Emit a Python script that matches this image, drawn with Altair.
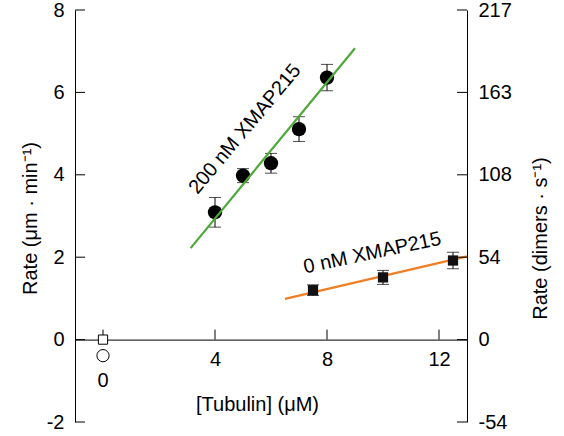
import altair as alt
import pandas as pd

# Growth rate (µm/min) against tubulin concentration (µM), 200 nM XMAP215
tub_200 = [4, 5, 6, 7, 8]
rate_200 = [3.09, 3.98, 4.28, 5.11, 6.36]
err_200 = [0.36, 0.17, 0.24, 0.30, 0.32]

# Growth rate without XMAP215
tub_0 = [7.5, 10, 12.5]
rate_0 = [1.20, 1.51, 1.92]
err_0 = [0.13, 0.17, 0.20]

# Controls at zero tubulin
ctrl_tub = [0, 0]
ctrl_rate = [0.0, -0.39]
ctrl_shape = ["square", "circle"]

# Linear fits (end points)
fit_200_x = [3.13, 9.0]
fit_200_y = [2.22, 7.07]
fit_0_x = [6.5, 13.0]
fit_0_y = [0.99, 2.02]

# Axes
left_ticks = [-2, 0, 2, 4, 6, 8]
right_labels = ["-54", "0", "54", "108", "163", "217"]
x_ticks = [0, 4, 8, 12]
x_labels = [4, 8, 12]

labels = ["200 nM XMAP215", "0 nM XMAP215"]
label_x = [5.07, 9.62]
label_y = [5.11, 2.10]
label_angle = [310, 348]

X_DOMAIN = [-1, 13]
Y_DOMAIN = [-2, 8]
W, H = 392, 412
FONT = "Liberation Sans"
FS = 20
TICK = 10
GREEN = "#4ea83a"
ORANGE = "#f07e22"

y_per_px = (Y_DOMAIN[1] - Y_DOMAIN[0]) / H

d200 = pd.DataFrame({"t": tub_200, "r": rate_200, "lo": [r - e for r, e in zip(rate_200, err_200)],
                     "hi": [r + e for r, e in zip(rate_200, err_200)]})
d0 = pd.DataFrame({"t": tub_0, "r": rate_0, "lo": [r - e for r, e in zip(rate_0, err_0)],
                   "hi": [r + e for r, e in zip(rate_0, err_0)]})
derr = pd.concat([d200, d0], ignore_index=True)
dctrl = pd.DataFrame({"t": ctrl_tub, "r": ctrl_rate, "shape": ctrl_shape})
dfit200 = pd.DataFrame({"t": fit_200_x, "r": fit_200_y})
dfit0 = pd.DataFrame({"t": fit_0_x, "r": fit_0_y})
dyt = pd.DataFrame({"r": left_ticks})
dxt = pd.DataFrame({"t": x_ticks, "r": [0] * len(x_ticks), "r_top": [TICK * y_per_px] * len(x_ticks)})
dlab = pd.DataFrame({"txt": labels, "t": label_x, "r": label_y, "a": label_angle})

xs = alt.Scale(domain=X_DOMAIN, nice=False, zero=False)
ys = alt.Scale(domain=Y_DOMAIN, nice=False, zero=False)

x_axis = alt.Axis(
    orient="bottom", offset=-(0 - Y_DOMAIN[0]) / y_per_px, values=x_labels,
    labelExpr="'' + datum.value",
    domain=True, domainColor="black", domainWidth=1, ticks=False, tickSize=0,
    labelPadding=10, labelFontSize=FS, labelColor="black", labelFont=FONT,
    grid=False, title="[Tubulin] (μM)", titleFontSize=FS, titleFont=FONT,
    titleFontWeight="normal", titleColor="black", titleX=182, titleY=65,
    titleBaseline="middle", titleAlign="center",
)
y_axis = alt.Axis(
    orient="left", values=left_ticks, labelExpr="'' + datum.value",
    domain=True, domainColor="black", domainWidth=1, ticks=False, tickSize=0,
    labelPadding=11, labelFontSize=FS, labelColor="black", labelFont=FONT,
    grid=False, title="Rate (μm · min⁻¹)", titleFontSize=FS, titleFont=FONT,
    titleFontWeight="normal", titleColor="black", titleX=-45, titleY=208,
    titleAngle=270, titleBaseline="middle", titleAlign="center",
)

X = alt.X("t:Q", scale=xs)
Y = alt.Y("r:Q", scale=ys)

# error bars (this layer also carries the x and left y axes)
err_bars = alt.Chart(derr).mark_rule(color="black", strokeWidth=1).encode(
    x=alt.X("t:Q", scale=xs, axis=x_axis),
    y=alt.Y("lo:Q", scale=ys, axis=y_axis),
    y2="hi:Q",
)
caps_lo = alt.Chart(derr).mark_tick(
    color="black", orient="horizontal", size=12, thickness=1).encode(x=X, y=alt.Y("lo:Q", scale=ys))
caps_hi = alt.Chart(derr).mark_tick(
    color="black", orient="horizontal", size=12, thickness=1).encode(x=X, y=alt.Y("hi:Q", scale=ys))

# inward ticks on the left axis and upward ticks on the x axis
left_tick_marks = alt.Chart(dyt).mark_rule(color="black", strokeWidth=1).encode(
    y=Y, x=alt.value(0), x2=alt.value(TICK))
x_tick_marks = alt.Chart(dxt).mark_rule(color="black", strokeWidth=1).encode(
    x=X, y=Y, y2="r_top:Q")

fit_200 = alt.Chart(dfit200).mark_line(color=GREEN, strokeWidth=2.2).encode(x=X, y=Y)
fit_0 = alt.Chart(dfit0).mark_line(color=ORANGE, strokeWidth=2.4).encode(x=X, y=Y)

pts_200 = alt.Chart(d200).mark_point(
    shape="circle", filled=True, color="black", size=205, opacity=1).encode(x=X, y=Y)
pts_0 = alt.Chart(d0).mark_point(
    shape="square", filled=True, color="#111111", size=105, opacity=1).encode(x=X, y=Y)

ctrl_sq = alt.Chart(dctrl[dctrl["shape"] == "square"]).mark_point(
    shape="square", filled=True, fill="white", stroke="black", strokeWidth=1, size=85, opacity=1
).encode(x=X, y=Y)
ctrl_ci = alt.Chart(dctrl[dctrl["shape"] == "circle"]).mark_point(
    shape="circle", filled=True, fill="white", stroke="black", strokeWidth=1, size=150, opacity=1
).encode(x=X, y=Y)

zero_label = alt.Chart(pd.DataFrame({"t": [0], "r": [-1.0], "txt": ["0"]})).mark_text(
    font=FONT, fontSize=FS, color="black", baseline="middle", align="center"
).encode(x=X, y=Y, text="txt:N")

series_labels = alt.Chart(dlab).mark_text(
    font=FONT, fontSize=FS, color="black", baseline="middle", align="center"
).encode(x=X, y=Y, text="txt:N", angle=alt.Angle("a:Q", scale=None))

main = alt.layer(
    err_bars, caps_lo, caps_hi, left_tick_marks, x_tick_marks,
    fit_0, pts_0, pts_200, fit_200, ctrl_sq, ctrl_ci, zero_label, series_labels,
)

# right-hand axis in dimers per second, at the positions of the left ticks
label_expr = "".join(
    f"datum.value == {v} ? '{lab}' : " for v, lab in zip(left_ticks, right_labels)
) + "''"
right = alt.Chart(dyt).mark_rule(color="black", strokeWidth=1).encode(
    y=alt.Y("r:Q", scale=alt.Scale(domain=Y_DOMAIN, nice=False, zero=False),
            axis=alt.Axis(
                orient="right", values=left_ticks, labelExpr=label_expr,
                domain=True, domainColor="black", domainWidth=1, ticks=False, tickSize=0,
                labelPadding=11, labelFontSize=FS, labelColor="black", labelFont=FONT,
                grid=False, title="Rate (dimers · s⁻¹)", titleFontSize=FS, titleFont=FONT,
                titleFontWeight="normal", titleColor="black", titleX=73, titleY=228,
                titleAngle=270, titleBaseline="middle", titleAlign="center",
            )),
    x=alt.value(W - TICK), x2=alt.value(W),
)

chart = alt.layer(main, right).resolve_scale(y="independent").properties(
    width=W, height=H,
    autosize=alt.AutoSizeParams(type="none"),
    padding={"left": 75, "top": 10, "right": 97, "bottom": 14},
).configure(font=FONT, background="white").configure_view(stroke=None)

chart.save("out.html", embed_options={"renderer": "svg", "actions": False})
